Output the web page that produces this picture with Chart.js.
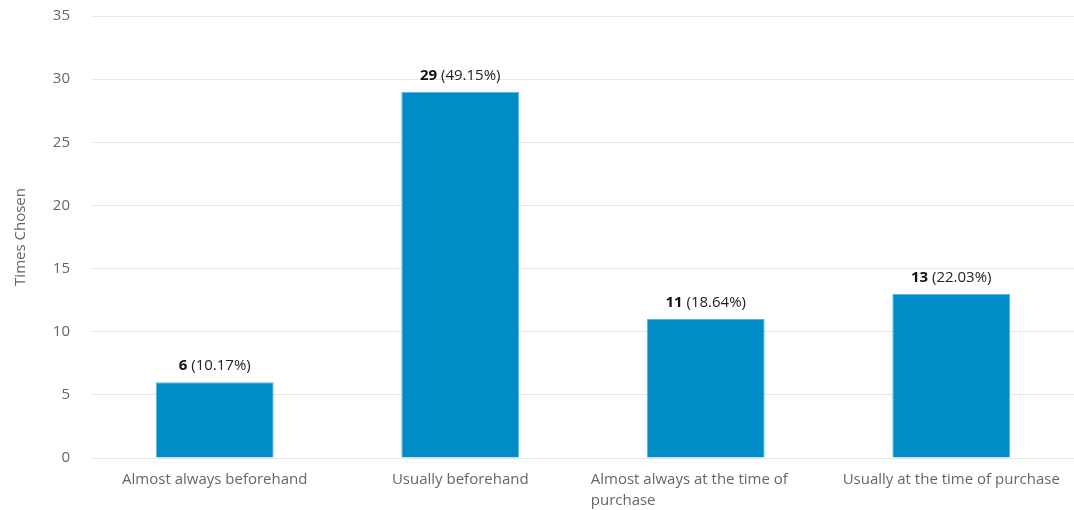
<!DOCTYPE html>
<html>
<head>
<meta charset="utf-8">
<script src="https://cdn.jsdelivr.net/npm/chart.js@4/dist/chart.umd.min.js"></script>
<style>
  html, body { margin: 0; padding: 0; background: #fff; }
  #wrap { width: 1074px; height: 510px; }
</style>
</head>
<body>
<div id="wrap"><canvas id="barChart"></canvas></div>
<script>
//answer categories and counts
var categories = [
    'Almost always beforehand',
    'Usually beforehand',
    'Almost always at the time of purchase',
    'Usually at the time of purchase'
];
var timesChosen = [6, 29, 11, 13];
var yTicks = [0, 5, 10, 15, 20, 25, 30, 35];

var total = timesChosen.reduce(function (a, b) { return a + b; }, 0);
var labelFont = '"Open Sans", sans-serif';

//wrap long text into lines no wider than maxW
function wrapText(ctx, text, maxW) {
    var words = text.split(' ');
    var lines = [];
    var line = '';
    words.forEach(function (w) {
        var test = line ? line + ' ' + w : w;
        if (ctx.measureText(test).width > maxW && line) {
            lines.push(line);
            line = w;
        } else {
            line = test;
        }
    });
    if (line) lines.push(line);
    return lines;
}

//category labels under the x axis
var xLabelsPlugin = {
    id: 'xLabels',
    afterDraw: function (chart) {
        var ctx = chart.ctx;
        var xScale = chart.scales.x;
        var wrapW = 230;
        ctx.save();
        ctx.font = '15px ' + labelFont;
        ctx.fillStyle = '#666';
        ctx.textBaseline = 'middle';
        categories.forEach(function (cat, i) {
            var cx = xScale.getPixelForTick(i);
            var lines = wrapText(ctx, cat, wrapW);
            var y = chart.chartArea.bottom + 22;
            if (lines.length > 1) {
                ctx.textAlign = 'left';
                lines.forEach(function (l, j) {
                    ctx.fillText(l, cx - wrapW / 2, y + j * 21);
                });
            } else {
                ctx.textAlign = 'center';
                ctx.fillText(lines[0], cx, y);
            }
        });
        ctx.restore();
    }
};

//"count (percent)" above each bar
var valueLabelsPlugin = {
    id: 'valueLabels',
    afterDatasetsDraw: function (chart) {
        var ctx = chart.ctx;
        var meta = chart.getDatasetMeta(0);
        ctx.save();
        ctx.textBaseline = 'middle';
        ctx.textAlign = 'left';
        meta.data.forEach(function (bar, i) {
            var val = timesChosen[i];
            var countText = String(val);
            var pctText = ' (' + (val / total * 100).toFixed(2) + '%)';
            ctx.font = 'bold 15px ' + labelFont;
            var w1 = ctx.measureText(countText).width;
            ctx.font = '15px ' + labelFont;
            var w2 = ctx.measureText(pctText).width;
            var x = bar.x - (w1 + w2) / 2;
            var y = bar.y - 16;
            ctx.font = 'bold 15px ' + labelFont;
            ctx.fillStyle = '#111';
            ctx.fillText(countText, x, y);
            ctx.font = '15px ' + labelFont;
            ctx.fillStyle = '#222';
            ctx.fillText(pctText, x + w1, y);
        });
        ctx.restore();
    }
};

var barContext = document.getElementById('barChart').getContext('2d');

var barData = {
    labels: categories,
    datasets: [{
        label: 'Times Chosen',
        data: timesChosen,
        backgroundColor: '#008cc6',
        borderColor: '#5ab6e0',
        borderWidth: 1,
        categoryPercentage: 1,
        barPercentage: 0.48
    }]
};

var barOptions = {
    responsive: true,
    maintainAspectRatio: false,
    animation: false,
    layout: {
        padding: { top: 16, right: 0, bottom: 52, left: 0 }
    },
    plugins: {
        legend: { display: false },
        tooltip: { enabled: false }
    },
    scales: {
        x: {
            grid: { display: false, drawTicks: false },
            border: { display: false },
            ticks: { display: false }
        },
        y: {
            min: 0,
            max: 35,
            afterFit: function (scale) {
                scale.width = 92;
                //tick padding should not push the plot down from the top
                scale.paddingTop = 0;
                scale.paddingBottom = 0;
            },
            afterBuildTicks: function (scale) {
                scale.ticks = yTicks.map(function (v) { return { value: v }; });
            },
            grid: { color: '#e6e6e6', drawTicks: false },
            border: { display: false },
            ticks: {
                padding: 22,
                color: '#666',
                font: { family: labelFont, size: 15 }
            },
            title: {
                display: true,
                text: 'Times Chosen',
                color: '#666',
                font: { family: labelFont, size: 15 },
                padding: { top: 12, bottom: 0 }
            }
        }
    }
};

var barChart = new Chart(barContext, {
    type: 'bar',
    data: barData,
    options: barOptions,
    plugins: [xLabelsPlugin, valueLabelsPlugin]
});
</script>
</body>
</html>
